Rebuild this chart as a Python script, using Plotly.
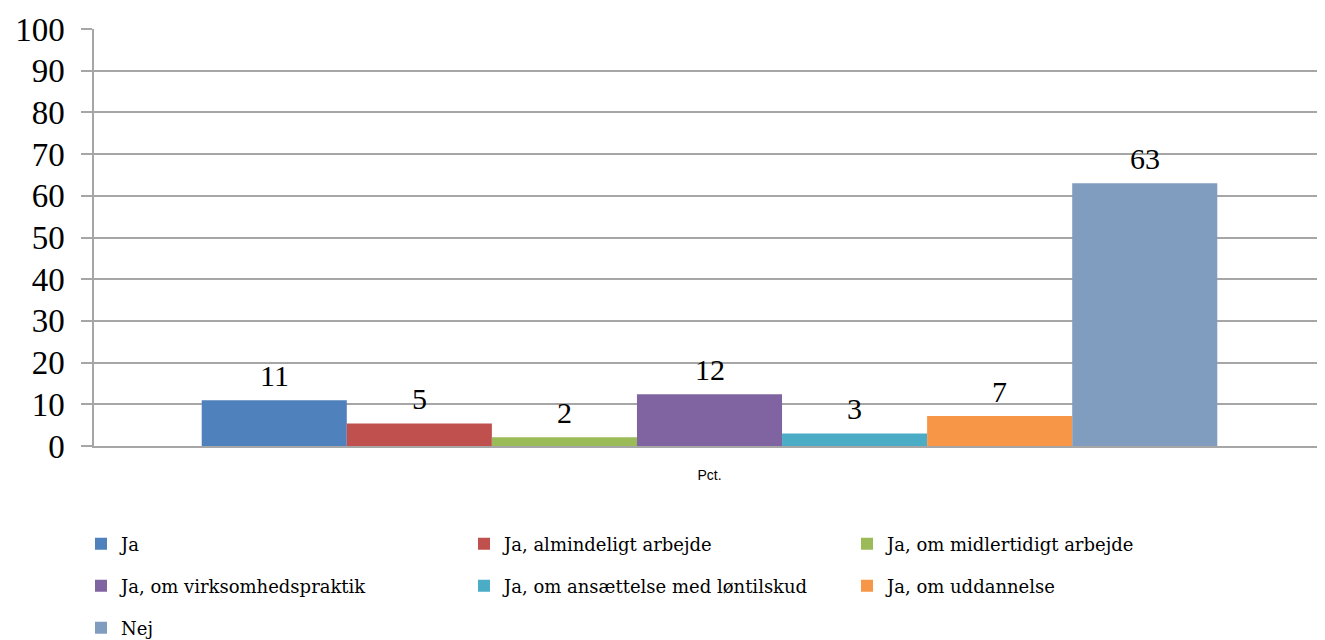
import plotly.graph_objects as go

category = ["Pct."]
series_names = [
    "Ja",
    "Ja, almindeligt arbejde",
    "Ja, om midlertidigt arbejde",
    "Ja, om virksomhedspraktik",
    "Ja, om ansættelse med løntilskud",
    "Ja, om uddannelse",
    "Nej",
]
series_values = [11.0, 5.4, 2.1, 12.4, 3.0, 7.2, 63.0]
series_labels = ["11", "5", "2", "12", "3", "7", "63"]
series_colors = ["#4F81BD", "#C0504D", "#9BBB59", "#8064A2", "#4BACC6", "#F79646", "#809CBF"]
legend_rows = ["legend", "legend", "legend", "legend2", "legend2", "legend2", "legend3"]
y_ticks = list(range(0, 101, 10))

BARGAP = 0.175
n = len(series_names)
W, H = 1317, 632

fig = go.Figure()
for name, val, col, lg in zip(series_names, series_values, series_colors, legend_rows):
    fig.add_trace(go.Bar(
        x=category, y=[val], name=name, marker=dict(color=col, line=dict(width=0)),
        legend=lg,
    ))

# data labels above each bar (positions follow the grouped-bar layout on the category axis)
slot = (1 - BARGAP) / n
for i, (val, lab) in enumerate(zip(series_values, series_labels)):
    fig.add_annotation(
        x=-(1 - BARGAP) / 2 + (i + 0.5) * slot, y=val, xref="x", yref="y",
        text=lab, showarrow=False, yanchor="bottom", yshift=6,
        font=dict(family="Liberation Serif", size=30, color="#000000"),
    )

grid = "#A6A6A6"
legend_common = dict(
    orientation="h", xanchor="left", yanchor="middle", xref="container", yref="container",
    x=73 / W, entrywidth=338, entrywidthmode="pixels",
    font=dict(family="DejaVu Serif", size=18, color="#000000"),
    bgcolor="rgba(0,0,0,0)", itemclick=False, itemdoubleclick=False,
)
fig.update_layout(
    width=W, height=H,
    margin=dict(l=86, r=0, t=21, b=194),
    paper_bgcolor="white", plot_bgcolor="white",
    barmode="group", bargap=BARGAP, bargroupgap=0,
    showlegend=True,
    legend=dict(**legend_common, y=1 - 536 / H),
    legend2=dict(**legend_common, y=1 - 578 / H),
    legend3=dict(**legend_common, y=1 - 620 / H),
    yaxis=dict(
        range=[0, 100], tickvals=y_ticks, showgrid=True, gridcolor=grid, gridwidth=1.5,
        ticks="outside", ticklen=11, tickcolor=grid, tickwidth=1.5,
        showline=True, linecolor=grid, linewidth=1.5, zeroline=False,
        automargin=False, ticklabelstandoff=10,
        tickfont=dict(family="Liberation Serif", size=33, color="#000000"),
    ),
    xaxis=dict(
        range=[-0.5, 0.5], showline=True, linecolor=grid, linewidth=1.5,
        ticks="", automargin=False, ticklabelstandoff=15,
        tickfont=dict(family="Liberation Sans", size=14, color="#000000"),
        showgrid=False,
    ),
)

fig.write_html("out.html")
